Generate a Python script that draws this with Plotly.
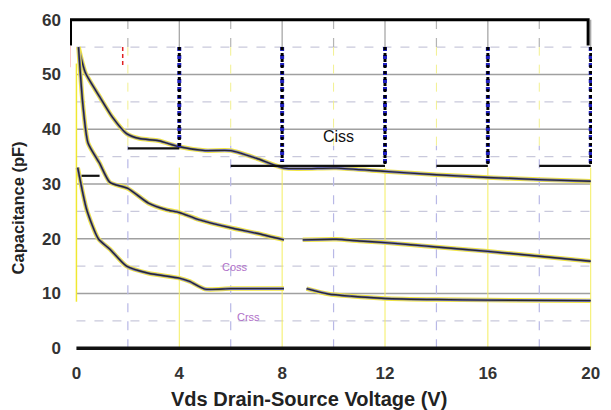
import plotly.graph_objects as go

# Capacitance vs drain-source voltage
ciss_v = [0.08, 0.35, 0.92, 1.4, 1.95, 2.45, 3.2, 4.0, 5.0, 6.0, 7.0, 8.07, 10.1, 12.0, 14.0, 16.0, 18.0, 20.0]
ciss_c = [55.0, 50.3, 45.8, 42.2, 39.2, 38.3, 37.9, 36.8, 36.1, 36.1, 34.7, 32.9, 32.9, 32.3, 31.7, 31.2, 30.8, 30.5]

coss_v = [0.08, 0.25, 0.45, 0.9, 1.3, 2.0, 2.8, 3.5, 4.0, 4.75, 6.0, 7.0, 8.07, None, 8.8, 10.1, 11.0, 12.0, 13.0, 14.0, 16.0, 18.0, 20.0]
coss_c = [55.0, 44.5, 37.5, 33.8, 30.3, 29.2, 26.5, 25.3, 24.8, 23.5, 22.0, 21.0, 19.8, None, 19.8, 19.9, 19.6, 19.3, 18.9, 18.5, 17.7, 16.8, 15.9]

crss_v = [0.05, 0.4, 0.85, 1.3, 1.95, 2.8, 4.0, 4.4, 5.0, 6.0, 8.07, None, 8.95, 9.8, 10.7, 12.0, 14.0, 16.0, 20.0]
crss_c = [33.0, 25.3, 20.0, 18.1, 15.0, 13.7, 12.8, 12.2, 10.8, 10.9, 10.9, None, 10.9, 9.9, 9.5, 9.1, 8.9, 8.8, 8.7]

# Limit steps (start V, end V, pF) and dotted drops at every 4 V
step_x0 = [0.2, 2.0, 6.0, 14.0, 18.0]
step_x1 = [0.9, 4.0, 12.0, 16.0, 20.0]
step_c = [31.5, 36.5, 33.3, 33.3, 33.3]
drop_v = [4, 8, 12, 16, 20]
drop_c = [36.5, 34.0, 33.3, 33.3, 33.3]

x_ticks = [0, 4, 8, 12, 16, 20]
y_ticks = [0, 10, 20, 30, 40, 50, 60]
major_grid_c = [10, 20, 30, 40, 50]
minor_grid_c = [5, 15, 25, 35, 45, 55]
minor_grid_v = [2, 6, 10, 14, 18]
major_grid_v = [4, 8, 12, 16, 20]

fig = go.Figure()
shapes = []

def seg(x0, y0, x1, y1, color, width, dash="solid"):
    shapes.append(dict(type="line", xref="x", yref="y", x0=x0, y0=y0, x1=x1, y1=y1,
                       line=dict(color=color, width=width, dash=dash), layer="below"))

for c in major_grid_c:
    seg(0, c, 20, c, "#a0a0a0", 1.5)
for c in minor_grid_c:
    seg(0, c, 20, c, "#c9c9dc", 1.2, "dash")
for v in minor_grid_v:
    seg(v, 55, v, 60, "#b4b4b4", 1.2, "dash")
    seg(v, 37, v, 55, "#f2f090", 1, "dash")
    seg(v, 0, v, 37, "#b8b8e6", 1.2, "dash")
for v in major_grid_v:
    seg(v, 55, v, 60, "#a0a0a0", 1.2)
    seg(v, 0, v, 33, "#f4ee60", 1)

fig.add_trace(go.Scatter(x=[0] * 2, y=[8.5, 52], mode="lines",
                         line=dict(color="#f0e830", width=1.5), hoverinfo="skip", showlegend=False))

for vs, cs in [(ciss_v, ciss_c), (coss_v, coss_c), (crss_v, crss_c)]:
    fig.add_trace(go.Scatter(x=vs, y=cs, mode="lines", line=dict(color="#f2e640", width=4.5, shape="spline", smoothing=0.6),
                             hoverinfo="skip", showlegend=False, connectgaps=False))
    fig.add_trace(go.Scatter(x=vs, y=cs, mode="lines", line=dict(color="#7a7ad0", width=2.6, shape="spline", smoothing=0.6),
                             hoverinfo="skip", showlegend=False, connectgaps=False))
    fig.add_trace(go.Scatter(x=vs, y=cs, mode="lines", line=dict(color="#2a2a2a", width=1.4, shape="spline", smoothing=0.6),
                             hoverinfo="skip", showlegend=False, connectgaps=False))

for x0, x1, c in zip(step_x0, step_x1, step_c):
    fig.add_trace(go.Scatter(x=[x0, x1], y=[c, c], mode="lines", line=dict(color="#111111", width=2.2),
                             hoverinfo="skip", showlegend=False))
for v, c in zip(drop_v, drop_c):
    fig.add_trace(go.Scatter(x=[v, v], y=[55, c], mode="lines", line=dict(color="#2020c0", width=4, dash="dot"),
                             hoverinfo="skip", showlegend=False))
    fig.add_trace(go.Scatter(x=[v, v], y=[55, c], mode="lines", line=dict(color="#000000", width=3, dash="dot"),
                             hoverinfo="skip", showlegend=False))

# frame: top rail, end posts and the zero line
fig.add_trace(go.Scatter(x=[-0.23, -0.23, 19.9, 19.9], y=[55.3, 60, 60, 55.3], mode="lines",
                         line=dict(color="#000000", width=3), hoverinfo="skip", showlegend=False))
fig.add_trace(go.Scatter(x=[-0.27, -0.27], y=[55.2, 51.3], mode="lines",
                         line=dict(color="#e02020", width=1.5), hoverinfo="skip", showlegend=False))
fig.add_trace(go.Scatter(x=[1.8, 1.8], y=[55, 51.2], mode="lines",
                         line=dict(color="#e02020", width=1.5, dash="4px,3px"), hoverinfo="skip", showlegend=False))
fig.add_trace(go.Scatter(x=[0, 20], y=[0, 0], mode="lines",
                         line=dict(color="#111111", width=3.5), hoverinfo="skip", showlegend=False))

annotations = [
    dict(x=10.2, y=38.6, xref="x", yref="y", text="Ciss", showarrow=False,
         font=dict(family="Liberation Sans", size=16, color="#111111")),
    dict(x=6.15, y=14.9, xref="x", yref="y", text="Coss", showarrow=False,
         font=dict(family="Liberation Sans", size=11, color="#b070c8")),
    dict(x=6.7, y=5.7, xref="x", yref="y", text="Crss", showarrow=False,
         font=dict(family="Liberation Sans", size=11, color="#b070c8")),
    dict(x=(313 - 70) / 530, y=-(386 - 350.8) / 339.6, xref="paper", yref="paper",
         xanchor="center", yanchor="top",
         text="Vds Drain-Source Voltage (V)", showarrow=False,
         font=dict(family="Liberation Sans", size=20, color="#222222", weight="bold")),
    dict(x=-(70 - 17) / 530, y=(350.8 - 205) / 339.6, xref="paper", yref="paper",
         xanchor="center", yanchor="middle",
         text="Capacitance (pF)", textangle=-90, showarrow=False,
         font=dict(family="Liberation Sans", size=16.5, color="#222222", weight="bold")),
]

fig.update_layout(
    width=611, height=410,
    margin=dict(l=70, r=11, t=11, b=59),
    paper_bgcolor="white", plot_bgcolor="white",
    shapes=shapes, annotations=annotations,
    xaxis=dict(range=[-0.25, 20.05], tickvals=x_ticks, showgrid=False, zeroline=False, showline=False,
               ticks="", ticklabelstandoff=10,
               tickfont=dict(family="Liberation Sans", size=17, color="#333333", weight="bold")),
    yaxis=dict(range=[-0.5, 60.5], tickvals=y_ticks, showgrid=False, zeroline=False, showline=False,
               ticks="", ticklabelstandoff=8,
               tickfont=dict(family="Liberation Sans", size=17, color="#333333", weight="bold")),
)

fig.write_html("out.html")
